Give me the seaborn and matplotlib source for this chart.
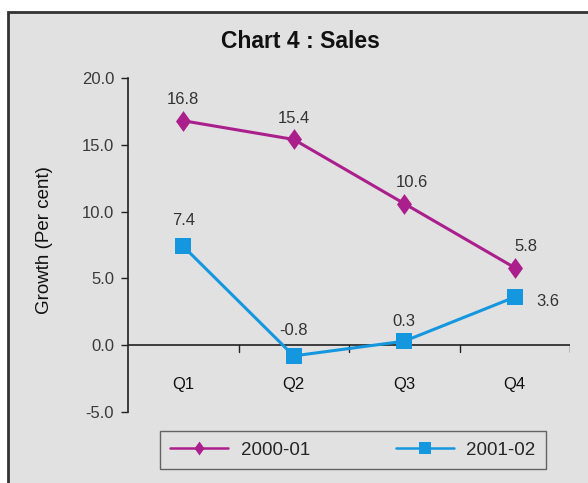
import matplotlib
matplotlib.use("Agg")
import matplotlib.pyplot as plt
import matplotlib.patches as mpatches
from matplotlib.path import Path
import seaborn as sns
import pandas as pd

quarters = ["Q1", "Q2", "Q3", "Q4"]
sales_2000_01 = [16.8, 15.4, 10.6, 5.8]
sales_2001_02 = [7.4, -0.8, 0.3, 3.6]
series_names = ["2000-01", "2001-02"]
y_ticks = [-5.0, 0.0, 5.0, 10.0, 15.0, 20.0]

df = pd.DataFrame({
    "Quarter": quarters * 2,
    "Growth": sales_2000_01 + sales_2001_02,
    "Year": [series_names[0]] * 4 + [series_names[1]] * 4,
})

sns.set_theme(style="white")
plt.rcParams["font.family"] = ["Liberation Sans", "DejaVu Sans"]

bg = "#e1e1e1"
colors = {series_names[0]: "#ab1f8c", series_names[1]: "#1597df"}
# slightly tall diamond
tall_diamond = Path([(0, 1), (0.72, 0), (0, -1), (-0.72, 0), (0, 1)],
                    [Path.MOVETO, Path.LINETO, Path.LINETO, Path.LINETO, Path.CLOSEPOLY])
markers = {series_names[0]: tall_diamond, series_names[1]: "s"}

fig = plt.figure(figsize=(5.88, 4.83), dpi=100)
fig.patch.set_facecolor("white")
# framed panel
frame = mpatches.Rectangle((8 / 588, -0.01), 1.0, 1 - 12 / 483 + 0.01,
                           transform=fig.transFigure, facecolor=bg,
                           edgecolor="#333333", linewidth=2.0, zorder=-10)
fig.add_artist(frame)

ax = fig.add_axes([128 / 588, 1 - 412 / 483, (570 - 128) / 588, (412 - 78) / 483])
ax.set_zorder(5)
ax.patch.set_alpha(0)

sns.lineplot(data=df, x="Quarter", y="Growth", hue="Year", style="Year",
             palette=colors, markers=markers, dashes=False, markersize=11,
             markeredgewidth=0, linewidth=2.2, ax=ax, legend=False, sort=False)
# diamonds a bit larger than the squares
ax.lines[0].set_markersize(15)

ax.set_xlim(-0.5, 3.5)
ax.set_ylim(-5, 20)
ax.set_yticks(y_ticks)
ax.set_yticklabels([f"{v:.1f}" for v in y_ticks], fontsize=12, color="#3a3a3a")
ax.tick_params(axis="y", length=5, width=1, color="#222222", direction="out", pad=5, left=True)

for s in ["top", "right", "bottom"]:
    ax.spines[s].set_visible(False)
ax.spines["left"].set_color("#222222")
ax.spines["left"].set_linewidth(1.2)

# zero line acting as category axis
ax.axhline(0, color="#222222", linewidth=1.2, zorder=1)
for b in [0.5, 1.5, 2.5, 3.5]:
    ax.plot([b, b], [0, -0.5], color="#222222", linewidth=1, zorder=1)
ax.set_xticks([])
ax.set_xlabel("")
for i, q in enumerate(quarters):
    ax.text(i, -2.95, q, ha="center", va="center", fontsize=12, color="#111111")

ax.set_ylabel("Growth (Per cent)", fontsize=13.5, color="#111111")
ax.yaxis.set_label_coords(-0.17, 0.515)

# value labels
offsets_a = [(0, 1.6), (0, 1.6), (0.07, 1.6), (0.1, 1.6)]
for i, v in enumerate(sales_2000_01):
    dx, dy = offsets_a[i]
    ax.text(i + dx, v + dy, f"{v:.1f}", ha="center", va="center", fontsize=12, color="#333333")
offsets_b = [(0, 1.9), (0, 1.9), (0, 1.5), (0.3, -0.3)]
for i, v in enumerate(sales_2001_02):
    dx, dy = offsets_b[i]
    ax.text(i + dx, v + dy, f"{v:.1f}", ha="center", va="center", fontsize=12, color="#333333")

fig.text(300 / 588, 1 - 41 / 483, "Chart 4 : Sales", ha="center", va="center",
         fontsize=16.5, fontweight="bold", color="#111111")

# legend
handles = [plt.Line2D([], [], color=colors[series_names[0]], marker=tall_diamond, markersize=10,
                      markeredgewidth=0, linewidth=1.8),
           plt.Line2D([], [], color=colors[series_names[1]], marker="s", markersize=8,
                      markeredgewidth=0, linewidth=1.8)]
leg = fig.legend(handles, series_names, loc="center", ncol=2,
                 bbox_to_anchor=(353 / 588, 1 - 450 / 483), frameon=True,
                 fontsize=13.5, handlelength=3.1, columnspacing=4.6, fancybox=False,
                 borderpad=0.55, handletextpad=0.65)
leg.get_frame().set_edgecolor("#444444")
leg.get_frame().set_facecolor(bg)
leg.get_frame().set_linewidth(1.0)

fig.savefig("out.png", dpi=100, facecolor=fig.get_facecolor())
